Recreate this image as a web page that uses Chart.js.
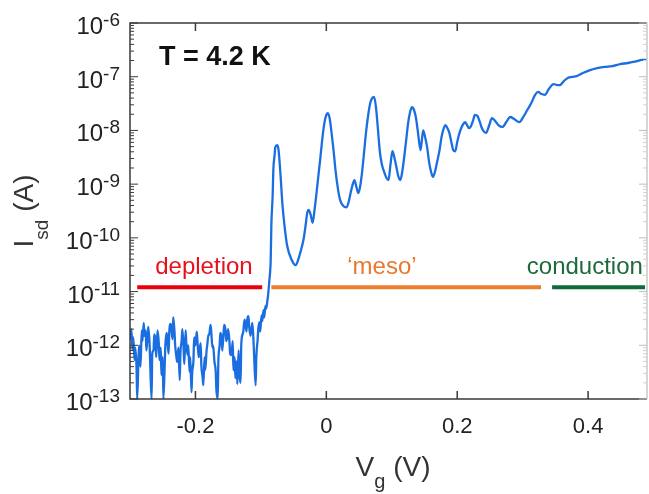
<!DOCTYPE html>
<html>
<head>
<meta charset="utf-8">
<script src="https://cdn.jsdelivr.net/npm/chart.js@4.4.1/dist/chart.umd.min.js"></script>
<style>
  html, body { margin: 0; padding: 0; background: #fff; }
  #wrap { width: 649px; height: 494px; }
</style>
</head>
<body>
<div id="wrap"><canvas id="chart" width="649" height="494"></canvas></div>
<script>
// gate voltage (V)
var vg = [
  -0.299, -0.298, -0.296, -0.295, -0.293, -0.292, -0.290, -0.289, -0.287, -0.286,
  -0.284, -0.282, -0.281, -0.279, -0.278, -0.276, -0.275, -0.273, -0.272, -0.270,
  -0.269, -0.267, -0.266, -0.264, -0.263, -0.261, -0.260, -0.258, -0.256, -0.255,
  -0.253, -0.252, -0.250, -0.249, -0.247, -0.246, -0.244, -0.243, -0.241, -0.240,
  -0.238, -0.237, -0.235, -0.234, -0.232, -0.231, -0.229, -0.228, -0.226, -0.224,
  -0.223, -0.221, -0.220, -0.218, -0.217, -0.215, -0.214, -0.212, -0.211, -0.209,
  -0.208, -0.206, -0.205, -0.203, -0.202, -0.200, -0.198, -0.197, -0.195, -0.194,
  -0.192, -0.191, -0.189, -0.188, -0.186, -0.185, -0.183, -0.182, -0.180, -0.179,
  -0.177, -0.176, -0.174, -0.173, -0.171, -0.169, -0.168, -0.166, -0.165, -0.163,
  -0.162, -0.160, -0.159, -0.157, -0.156, -0.154, -0.153, -0.151, -0.150, -0.148,
  -0.147, -0.145, -0.143, -0.142, -0.140, -0.139, -0.137, -0.136, -0.134, -0.133,
  -0.131, -0.130, -0.128, -0.127, -0.125, -0.124, -0.122, -0.121, -0.119, -0.118,
  -0.116, -0.115, -0.113, -0.111, -0.110, -0.108, -0.107, -0.105, -0.104, -0.102,
  -0.101, -0.099, -0.098, -0.096, -0.095, -0.093, -0.092, -0.090,
  -0.089, -0.087, -0.085, -0.084, -0.082, -0.081, -0.079, -0.078, -0.075, -0.073,
  -0.070, -0.067, -0.064, -0.060, -0.053, -0.047, -0.043, -0.040, -0.035, -0.032,
  -0.029, -0.027, -0.024, -0.021, -0.018, -0.015, -0.012, -0.009, -0.006, -0.003,
  0.000, 0.002, 0.005, 0.008, 0.011, 0.014, 0.018, 0.021, 0.026, 0.031,
  0.034, 0.037, 0.040, 0.043, 0.046, 0.049, 0.052, 0.055, 0.058, 0.061,
  0.064, 0.067, 0.070, 0.073, 0.076, 0.079, 0.082, 0.085, 0.089, 0.092,
  0.095, 0.098, 0.101, 0.104, 0.107, 0.110, 0.113, 0.116, 0.119, 0.122,
  0.125, 0.128, 0.131, 0.134, 0.137, 0.140, 0.144, 0.146, 0.148, 0.151,
  0.154, 0.157, 0.160, 0.163, 0.166, 0.169, 0.173, 0.176, 0.179, 0.182,
  0.185, 0.188, 0.191, 0.194, 0.197, 0.200, 0.203, 0.206, 0.209, 0.212,
  0.215, 0.218, 0.221, 0.224, 0.227, 0.231, 0.234, 0.237, 0.240, 0.244,
  0.249, 0.253, 0.258, 0.263, 0.269, 0.275, 0.281, 0.287, 0.295, 0.301,
  0.307, 0.313, 0.319, 0.324, 0.328, 0.334, 0.340, 0.347, 0.353, 0.357,
  0.363, 0.369, 0.376, 0.383, 0.392, 0.403, 0.414, 0.426, 0.437, 0.449,
  0.461, 0.475, 0.482, 0.490
];

// source-drain current (A)
var isd = [
  12.5e-13, 20e-13, 8.1e-13, 14e-13, 5.3e-13, 9e-13, 3.8e-13, 1e-13, 6e-13, 10e-13,
  4e-13, 19e-13, 12e-13, 26e-13, 15e-13, 19e-13, 8e-13, 15.5e-13, 22e-13, 10e-13,
  4e-13, 1e-13, 7e-13, 8.1e-13, 16e-13, 12.5e-13, 6e-13, 19e-13, 11e-13, 5.3e-13,
  9e-13, 2.8e-13, 6e-13, 1e-13, 4e-13, 10e-13, 17e-13, 12.5e-13, 7e-13, 17.6e-13,
  25e-13, 21e-13, 13e-13, 33.5e-13, 18e-13, 10e-13, 6e-13, 4.9e-13, 9e-13, 2.25e-13,
  7e-13, 12.5e-13, 20e-13, 8.1e-13, 4.5e-13, 19e-13, 11e-13, 6.6e-13, 10e-13, 3.2e-13,
  6e-13, 1.34e-13, 3e-13, 5.3e-13, 14e-13, 10e-13, 18e-13, 12.5e-13, 6e-13, 7.5e-13,
  11e-13, 4.3e-13, 2.5e-13, 1.8e-13, 6e-13, 3.45e-13, 8e-13, 10e-13, 16e-13, 15.5e-13,
  24e-13, 19e-13, 9e-13, 10e-13, 5e-13, 3.2e-13, 1.5e-13, 1e-13, 5e-13, 10e-13,
  17e-13, 13.6e-13, 8e-13, 17e-13, 24e-13, 19e-13, 12e-13, 15e-13, 20e-13, 11.5e-13,
  7e-13, 6.6e-13, 12e-13, 3.45e-13, 6e-13, 2.45e-13, 5e-13, 1.9e-13, 8e-13, 3.2e-13,
  2e-13, 10e-13, 16e-13, 17.6e-13, 30e-13, 27e-13, 18e-13, 29e-13, 35e-13, 23e-13,
  15e-13, 17.6e-13, 26e-13, 10e-13, 5e-13, 1.8e-13, 6e-13, 12.5e-13, 20e-13, 27e-13,
  18e-13, 36e-13, 28e-13, 45e-13, 33e-13, 54e-13, 48e-13, 69e-13,
  8.6e-12, 1.64e-11, 3.9e-11, 1.73e-10, 6.3e-10, 1.83e-9, 3.5e-9, 4.9e-9, 5.3e-9, 4.3e-9,
  1.48e-9, 4.1e-10, 1.73e-10, 7.3e-11, 3.9e-11, 3.1e-11, 3.9e-11, 5.2e-11, 9.1e-11, 1.59e-10,
  3.0e-10, 3.3e-10, 2.7e-10, 1.9e-10, 3.3e-10, 6.8e-10, 1.48e-9, 3.2e-9, 7.2e-9, 1.37e-8,
  1.94e-8, 2.1e-8, 1.7e-8, 9.0e-9, 4.3e-9, 1.83e-9, 7.8e-10, 5.1e-10, 3.9e-10, 3.7e-10,
  4.6e-10, 6.8e-10, 9.6e-10, 1.19e-9, 8.8e-10, 6.8e-10, 9.6e-10, 1.83e-9, 4.3e-9, 1.0e-8,
  1.94e-8, 3.2e-8, 4.0e-8, 4.2e-8, 2.6e-8, 1.0e-8, 3.8e-9, 2.3e-9, 1.6e-9, 1.3e-9,
  1.19e-9, 2.3e-9, 4.1e-9, 3.1e-9, 2.1e-9, 1.4e-9, 1.19e-9, 1.7e-9, 3.2e-9, 6.6e-9,
  1.37e-8, 2.2e-8, 2.7e-8, 2.4e-8, 1.7e-8, 9.3e-9, 4.3e-9, 6.6e-9, 1.0e-8, 7.5e-9,
  4.9e-9, 2.6e-9, 1.7e-9, 1.36e-9, 1.7e-9, 2.5e-9, 4.3e-9, 7.5e-9, 1.06e-8, 1.26e-8,
  1.1e-8, 9.0e-9, 6.1e-9, 4.3e-9, 4.1e-9, 6.1e-9, 8.6e-9, 1.1e-8, 1.3e-8, 1.43e-8,
  1.26e-8, 1.1e-8, 1.2e-8, 1.5e-8, 1.94e-8, 1.85e-8, 1.5e-8, 1.16e-8, 9.8e-9, 9.0e-9,
  1.26e-8, 1.7e-8, 1.5e-8, 1.26e-8, 1.16e-8, 1.43e-8, 1.78e-8, 1.63e-8, 1.43e-8, 1.78e-8,
  2.4e-8, 3.2e-8, 4.6e-8, 5.2e-8, 4.8e-8, 4.6e-8, 5.9e-8, 7.3e-8, 7.0e-8, 7.0e-8,
  8.3e-8, 9.5e-8, 9.9e-8, 1.03e-7, 1.17e-7, 1.33e-7, 1.45e-7, 1.52e-7, 1.58e-7, 1.72e-7,
  1.8e-7, 1.96e-7, 2.05e-7, 2.05e-7
];

// transport regimes (bars drawn at one current level)
var regionNames = ["depletion", "\u2018meso\u2019", "conduction"];
var regionStart = [-0.289, -0.084, 0.345];
var regionEnd = [-0.098, 0.328, 0.487];
var regionLabelX = [-0.187, 0.085, 0.395];
var regionLevel = [1.2e-11, 1.2e-11, 1.2e-11];

// axis ticks
var xTicks = [-0.2, 0, 0.2, 0.4];
var xTickLabels = ["-0.2", "0", "0.2", "0.4"];
var yTicks = [1e-13, 1e-12, 1e-11, 1e-10, 1e-9, 1e-8, 1e-7, 1e-6];
var yTickExponents = ["-13", "-12", "-11", "-10", "-9", "-8", "-7", "-6"];

var FONT = '"Liberation Sans", Arial, sans-serif';
var regionColors = ["#e8000d", "#ed7d31", "#0f6b37"];
var regionTextColors = ["#e8101c", "#e8782e", "#1d6a3c"];

var curve = vg.map(function (v, i) { return { x: v, y: isd[i] }; });

var datasets = [{
  data: curve,
  borderColor: "#1b6ee0",
  borderWidth: 2.3,
  pointRadius: 0,
  cubicInterpolationMode: "monotone"
}];
regionNames.forEach(function (name, i) {
  datasets.push({
    data: [{ x: regionStart[i], y: regionLevel[i] }, { x: regionEnd[i], y: regionLevel[i] }],
    borderColor: regionColors[i],
    borderWidth: 4,
    pointRadius: 0,
    borderCapStyle: "butt"
  });
});

var decorations = {
  id: "decorations",
  afterDraw: function (chart) {
    var ctx = chart.ctx;
    var a = chart.chartArea;
    var xs = chart.scales.x;
    var ys = chart.scales.y;
    ctx.save();

    // frame
    ctx.lineWidth = 1.5;
    ctx.strokeStyle = "#3a3a3a";
    ctx.beginPath();
    ctx.moveTo(a.right, a.top);
    ctx.lineTo(a.left, a.top);
    ctx.lineTo(a.left, a.bottom);
    ctx.lineTo(a.right, a.bottom);
    ctx.stroke();
    ctx.strokeStyle = "#c8c8c8";
    ctx.beginPath();
    ctx.moveTo(a.right, a.top);
    ctx.lineTo(a.right, a.bottom);
    ctx.stroke();

    // x ticks (inward) and labels
    ctx.strokeStyle = "#3a3a3a";
    ctx.fillStyle = "#222";
    ctx.font = "22px " + FONT;
    ctx.textAlign = "center";
    ctx.textBaseline = "alphabetic";
    xTicks.forEach(function (v, i) {
      var px = xs.getPixelForValue(v);
      ctx.beginPath();
      ctx.moveTo(px, a.bottom);
      ctx.lineTo(px, a.bottom - 8);
      ctx.moveTo(px, a.top);
      ctx.lineTo(px, a.top + 8);
      ctx.stroke();
      ctx.fillText(xTickLabels[i], px, 433);
    });

    // y ticks: majors, log minors, labels 10^n
    ctx.lineWidth = 1;
    yTicks.forEach(function (v, i) {
      var py = ys.getPixelForValue(v);
      ctx.strokeStyle = "#3a3a3a";
      ctx.beginPath();
      ctx.moveTo(a.left, py);
      ctx.lineTo(a.left + 8, py);
      ctx.stroke();
      ctx.strokeStyle = "#bdbdbd";
      ctx.beginPath();
      ctx.moveTo(a.right, py);
      ctx.lineTo(a.right - 8, py);
      ctx.stroke();
      if (i < yTicks.length - 1) {
        for (var m = 2; m <= 9; m++) {
          var pm = ys.getPixelForValue(v * m);
          ctx.strokeStyle = "#3a3a3a";
          ctx.beginPath();
          ctx.moveTo(a.left, pm);
          ctx.lineTo(a.left + 4, pm);
          ctx.stroke();
          ctx.strokeStyle = "#d0d0d0";
          ctx.beginPath();
          ctx.moveTo(a.right, pm);
          ctx.lineTo(a.right - 4, pm);
          ctx.stroke();
        }
      }
      ctx.fillStyle = "#222";
      ctx.font = "19px " + FONT;
      var expW = ctx.measureText(yTickExponents[i]).width;
      ctx.textAlign = "left";
      ctx.fillText(yTickExponents[i], 120 - expW, py + 3);
      ctx.font = "24px " + FONT;
      ctx.textAlign = "right";
      ctx.fillText("10", 120 - expW, py + 11);
    });

    // region labels
    ctx.font = "24px " + FONT;
    ctx.textAlign = "center";
    regionNames.forEach(function (name, i) {
      ctx.fillStyle = regionTextColors[i];
      ctx.fillText(name, xs.getPixelForValue(regionLabelX[i]), ys.getPixelForValue(regionLevel[i]) - 13);
    });

    // temperature label
    ctx.fillStyle = "#111";
    ctx.font = "bold 27px " + FONT;
    ctx.textAlign = "left";
    ctx.fillText("T = 4.2 K", 159, 65);

    // x axis title: V_g (V)
    ctx.fillStyle = "#333";
    ctx.font = "28px " + FONT;
    var wV = ctx.measureText("V").width;
    var wRest = ctx.measureText(" (V)").width;
    ctx.font = "20px " + FONT;
    var wG = ctx.measureText("g").width;
    var x0 = 393 - (wV + wG + wRest) / 2;
    ctx.textAlign = "left";
    ctx.font = "28px " + FONT;
    ctx.fillText("V", x0, 476);
    ctx.fillText(" (V)", x0 + wV + wG, 476);
    ctx.font = "20px " + FONT;
    ctx.fillText("g", x0 + wV, 488);

    // y axis title: I_sd (A)
    ctx.translate(33, 211);
    ctx.rotate(-Math.PI / 2);
    ctx.font = "28px " + FONT;
    var wI = ctx.measureText("I").width;
    var wA = ctx.measureText(" (A)").width;
    ctx.font = "19px " + FONT;
    var wSd = ctx.measureText("sd").width;
    var s0 = -(wI + wSd + wA) / 2;
    ctx.font = "28px " + FONT;
    ctx.fillText("I", s0, 0);
    ctx.fillText(" (A)", s0 + wI + wSd, 0);
    ctx.font = "19px " + FONT;
    ctx.fillText("sd", s0 + wI, 15);

    ctx.restore();
  }
};

new Chart(document.getElementById("chart"), {
  type: "line",
  data: { datasets: datasets },
  options: {
    responsive: false,
    animation: false,
    layout: { padding: { left: 130, right: 2, top: 23, bottom: 95 } },
    plugins: {
      legend: { display: false },
      tooltip: { enabled: false }
    },
    scales: {
      x: { type: "linear", min: -0.3, max: 0.49, display: false },
      y: { type: "logarithmic", min: 1e-13, max: 1e-6, display: false }
    }
  },
  plugins: [decorations]
});
</script>
</body>
</html>
